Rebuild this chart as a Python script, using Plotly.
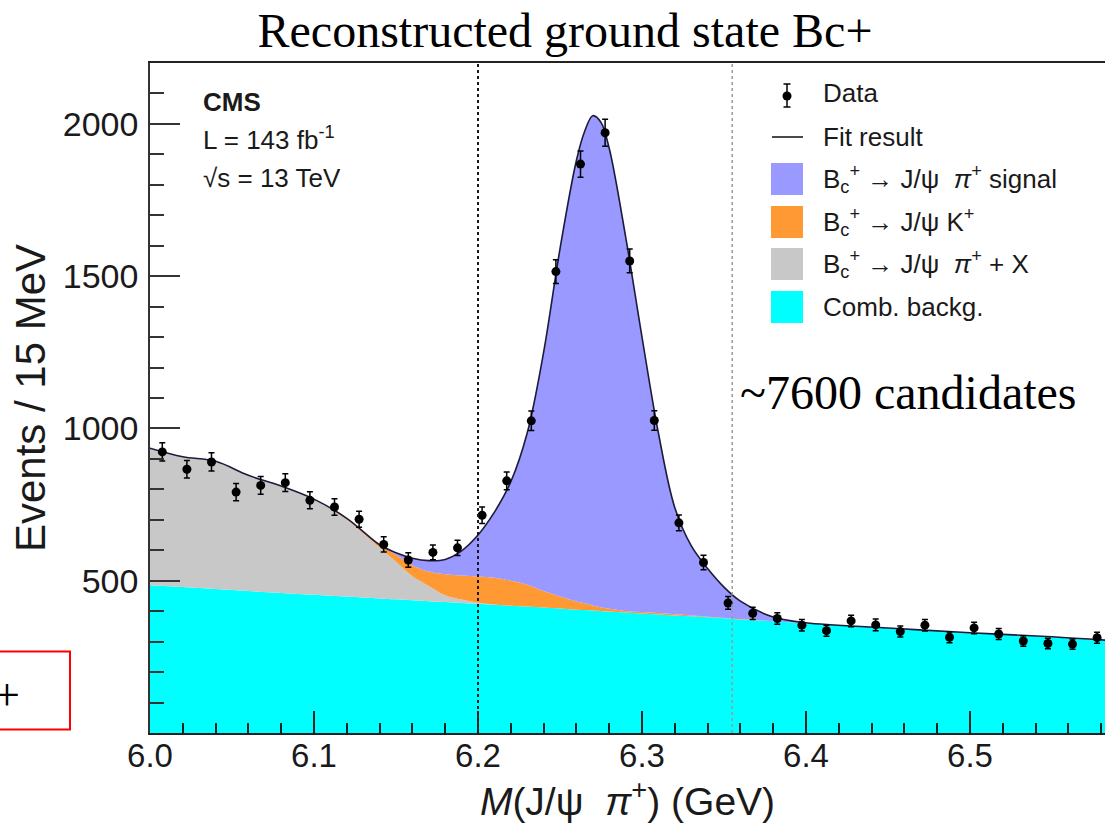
import plotly.graph_objects as go

# ---------------- data ----------------
bin_centers = [6.0075, 6.0225, 6.0375, 6.0525, 6.0675, 6.0825, 6.0975, 6.1125, 6.1275, 6.1425,
               6.1575, 6.1725, 6.1875, 6.2025, 6.2175, 6.2325, 6.2475, 6.2625, 6.2775, 6.2925,
               6.3075, 6.3225, 6.3375, 6.3525, 6.3675, 6.3825, 6.3975, 6.4125, 6.4275, 6.4425,
               6.4575, 6.4725, 6.4875, 6.5025, 6.5175, 6.5325, 6.5475, 6.5625, 6.5775]
events = [923, 866, 890, 791, 813, 822, 764, 742, 702, 619,
          568, 593, 608, 715, 828, 1025, 1515, 1868, 1971, 1550,
          1026, 690, 560, 427, 393, 376, 354, 336, 368, 355,
          333, 354, 314, 345, 325, 302, 294, 292, 313]
event_errors = [30, 29, 30, 28, 29, 29, 28, 27, 26, 25,
                24, 24, 25, 27, 29, 32, 39, 43, 44, 39,
                32, 26, 24, 21, 20, 19, 19, 18, 19, 19,
                18, 19, 18, 19, 18, 17, 17, 17, 18]

curve_mass = [6.00, 6.02, 6.04, 6.06, 6.08, 6.10, 6.12, 6.14, 6.15, 6.16,
              6.17, 6.18, 6.19, 6.20, 6.21, 6.22, 6.23, 6.24, 6.25, 6.26,
              6.265, 6.27, 6.275, 6.28, 6.29, 6.30, 6.31, 6.32, 6.33, 6.34,
              6.35, 6.36, 6.38, 6.40, 6.45, 6.50, 6.55, 6.59]
# cumulative (stacked) tops of each component
comb_backg_top = [485, 479, 473, 466, 460, 454, 448, 442, 439, 436,
                  433, 430, 427, 424, 421, 418, 415, 412, 409, 405,
                  404, 402, 401, 399, 396, 392, 389, 386, 383, 380,
                  377, 373, 367, 360, 344, 329, 314, 301]
partial_reco_top = [935, 907, 892, 846, 811, 768, 700, 608, 562, 515,
                    483, 452, 438, 428, 422, 418, 415, 412, 409, 405,
                    404, 402, 401, 399, 396, 392, 389, 386, 383, 380,
                    377, 373, 367, 360, 344, 329, 314, 301]
jpsik_top = [935, 907, 892, 846, 811, 768, 705, 618, 585, 550,
             530, 521, 517, 514, 510, 500, 487, 466, 448, 432,
             426, 419, 413, 408, 401, 397, 394, 390, 386, 382,
             378, 374, 367, 360, 344, 329, 314, 301]
fit_total = [935, 907, 892, 846, 811, 768, 705, 618, 592, 574,
             566, 570, 598, 650, 725, 825, 985, 1250, 1590, 1880,
             1975, 2027, 2005, 1920, 1630, 1300, 985, 740, 615, 540,
             479, 433, 381, 362, 345, 329, 316, 302]

x_ticks = [6.0, 6.1, 6.2, 6.3, 6.4, 6.5]
x_tick_labels = ["6.0", "6.1", "6.2", "6.3", "6.4", "6.5"]
y_ticks = [500, 1000, 1500, 2000]
y_tick_labels = ["500", "1000", "1500", "2000"]
cut_lines = [6.2, 6.355]

legend_labels = ["Data", "Fit result",
                 "B<sub>c</sub><sup>+</sup> \u2192 J/\u03c8  <i>\u03c0</i><sup>+</sup> signal",
                 "B<sub>c</sub><sup>+</sup> \u2192 J/\u03c8 K<sup>+</sup>",
                 "B<sub>c</sub><sup>+</sup> \u2192 J/\u03c8  <i>\u03c0</i><sup>+</sup> + X",
                 "Comb. backg."]

# ---------------- layout geometry ----------------
W, H = 1105, 828
ML, MR, MT, MB = 150, 0, 63, 95
PW, PH = W - ML - MR, H - MT - MB


def px(x):
    return (x - ML) / PW


def py(y):
    return (H - MB - y) / PH


C_SIG = "#9999ff"
C_K = "#ff9933"
C_X = "#c8c8c8"
C_COMB = "#00ffff"
SANS = "Liberation Sans, Arial, sans-serif"
SERIF = "Liberation Serif, Times New Roman, serif"

fig = go.Figure()
fig.add_trace(go.Scatter(x=curve_mass, y=comb_backg_top, mode="lines", fill="tozeroy",
                         fillcolor=C_COMB, line=dict(width=0, shape="spline"),
                         showlegend=False, hoverinfo="skip"))
fig.add_trace(go.Scatter(x=curve_mass, y=partial_reco_top, mode="lines", fill="tonexty",
                         fillcolor=C_X, line=dict(width=0, shape="spline"),
                         showlegend=False, hoverinfo="skip"))
fig.add_trace(go.Scatter(x=curve_mass, y=jpsik_top, mode="lines", fill="tonexty",
                         fillcolor=C_K, line=dict(width=0, shape="spline"),
                         showlegend=False, hoverinfo="skip"))
fig.add_trace(go.Scatter(x=curve_mass, y=fit_total, mode="lines", fill="tonexty",
                         fillcolor=C_SIG, line=dict(width=0, shape="spline"),
                         showlegend=False, hoverinfo="skip"))
fig.add_trace(go.Scatter(x=curve_mass, y=fit_total, mode="lines",
                         line=dict(color="#1c1c3a", width=1.6, shape="spline"),
                         showlegend=False, name="Fit result"))
fig.add_trace(go.Scatter(x=bin_centers, y=events, mode="markers", name="Data",
                         marker=dict(color="black", size=9),
                         error_y=dict(type="data", array=event_errors, color="black",
                                      thickness=1.5, width=3),
                         showlegend=False))

shapes = []
# cut lines
shapes.append(dict(type="line", xref="x", yref="paper", x0=cut_lines[0], x1=cut_lines[0],
                   y0=0, y1=1, line=dict(color="#1a1a1a", width=2, dash="dot"), layer="above"))
shapes.append(dict(type="line", xref="x", yref="paper", x0=cut_lines[1], x1=cut_lines[1],
                   y0=0, y1=1, line=dict(color="#9a9a9a", width=1.5, dash="dot"), layer="above"))

# manual legend
leg_rows = [93, 137, 179, 222, 264, 307]
# data key
shapes.append(dict(type="circle", xref="paper", yref="paper",
                   x0=px(782.5), x1=px(791.5), y0=py(100.5), y1=py(91.5),
                   fillcolor="black", line=dict(color="black", width=0)))
shapes.append(dict(type="line", xref="paper", yref="paper", x0=px(787), x1=px(787),
                   y0=py(84), y1=py(107), line=dict(color="black", width=1.5)))
for yy in (84, 107):
    shapes.append(dict(type="line", xref="paper", yref="paper", x0=px(783.5), x1=px(790.5),
                       y0=py(yy), y1=py(yy), line=dict(color="black", width=1.5)))
# fit key
shapes.append(dict(type="line", xref="paper", yref="paper", x0=px(772), x1=px(803),
                   y0=py(leg_rows[1]), y1=py(leg_rows[1]), line=dict(color="#1c1c1c", width=1.6)))
for col, yy in zip([C_SIG, C_K, C_X, C_COMB], leg_rows[2:]):
    shapes.append(dict(type="rect", xref="paper", yref="paper", x0=px(771), x1=px(803),
                       y0=py(yy + 16), y1=py(yy - 16), fillcolor=col, line=dict(width=0)))

# red box (cut-off slide element)
shapes.append(dict(type="rect", xref="paper", yref="paper", x0=px(-6), x1=px(70),
                   y0=py(729.5), y1=py(651.5), line=dict(color="#ff0000", width=2),
                   fillcolor="rgba(0,0,0,0)"))

annotations = []
for lab, yy in zip(legend_labels, leg_rows):
    annotations.append(dict(text=lab, xref="paper", yref="paper", x=px(821), y=py(yy),
                            xanchor="left", yanchor="middle", showarrow=False,
                            font=dict(family=SANS, size=26, color="#1a1a1a")))
cms_lines = [("<b>CMS</b>", 102), ("L = 143 fb<sup>-1</sup>", 139), ("\u221as = 13 TeV", 178)]
for txt, yy in cms_lines:
    annotations.append(dict(text=txt, xref="paper", yref="paper", x=px(201), y=py(yy),
                            xanchor="left", yanchor="middle", showarrow=False,
                            font=dict(family=SANS, size=26, color="#1a1a1a")))
annotations.append(dict(text="~7600 candidates", xref="paper", yref="paper", x=px(738), y=py(392),
                        xanchor="left", yanchor="middle", showarrow=False,
                        font=dict(family=SERIF, size=48, color="black")))
annotations.append(dict(text="+", xref="paper", yref="paper", x=px(7), y=py(694),
                        xanchor="center", yanchor="middle", showarrow=False,
                        font=dict(family=SERIF, size=46, color="black")))

fig.update_layout(
    width=W, height=H,
    margin=dict(l=ML, r=MR, t=MT, b=MB),
    paper_bgcolor="white", plot_bgcolor="white",
    title=dict(text="Reconstructed ground state Bc+", x=565 / W, xanchor="center",
               y=1 - 30 / H, yanchor="middle",
               font=dict(family=SERIF, size=48, color="black")),
    shapes=shapes, annotations=annotations,
    xaxis=dict(range=[6.0, 6.0 + PW / 1640.0], tickvals=x_ticks, ticktext=x_tick_labels,
               ticks="inside", ticklen=22, tickwidth=1.5, tickcolor="#222",
               minor=dict(dtick=0.02, tick0=6.0, ticks="inside", ticklen=10,
                          tickwidth=1.5, tickcolor="#222"),
               showline=True, linecolor="#222", linewidth=2, mirror=True,
               showgrid=False, zeroline=False,
               tickfont=dict(family=SANS, size=33, color="#1a1a1a"),
               ticklabelstandoff=-8,
               title=dict(text="<i>M</i>(J/\u03c8  <i>\u03c0</i><sup>+</sup>) (GeV)",
                          font=dict(family=SANS, size=39, color="#1a1a1a"), standoff=0)),
    yaxis=dict(range=[0, 2200], tickvals=y_ticks, ticktext=y_tick_labels,
               ticks="inside", ticklen=30, tickwidth=1.5, tickcolor="#333",
               minor=dict(dtick=100, tick0=0, ticks="inside", ticklen=14,
                          tickwidth=1.5, tickcolor="#333"),
               showline=True, linecolor="#333", linewidth=1.5, mirror=False,
               showgrid=False, zeroline=False,
               tickfont=dict(family=SANS, size=34, color="#1a1a1a"),
               ticklabelstandoff=3,
               title=dict(text="Events / 15 MeV",
                          font=dict(family=SANS, size=42, color="#1a1a1a"), standoff=4)),
)

fig.write_html("out.html")
